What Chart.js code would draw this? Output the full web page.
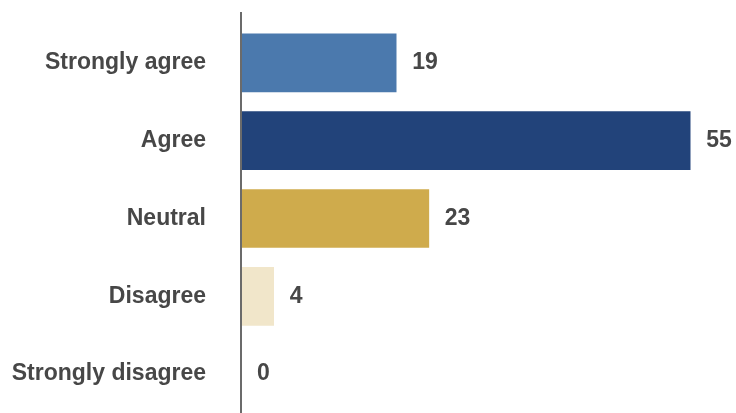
<!DOCTYPE html>
<html>
<head>
<meta charset="utf-8">
<script src="https://cdn.jsdelivr.net/npm/chart.js@4"></script>
<style>
  html, body { margin: 0; padding: 0; background: #ffffff; }
  #wrap { width: 736px; height: 413px; }
</style>
</head>
<body>
<div id="wrap"><canvas id="chart" width="736" height="413"></canvas></div>
<script>
// Survey responses
const categories = ['Strongly agree', 'Agree', 'Neutral', 'Disagree', 'Strongly disagree'];
const responses = [19, 55, 23, 4, 0];
const barColors = ['#4b79ad', '#22437a', '#cfab4c', '#f1e6ca', '#d9d9d9'];

const TEXT_COLOR = '#474747';
const FONT_FAMILY = '"Liberation Sans", Arial, sans-serif';
const FONT_SIZE = 23;

// Value labels to the right of each bar
const valueLabels = {
  id: 'valueLabels',
  afterDatasetsDraw(chart) {
    const ctx = chart.ctx;
    const meta = chart.getDatasetMeta(0);
    ctx.save();
    ctx.fillStyle = TEXT_COLOR;
    ctx.font = 'bold ' + FONT_SIZE + 'px ' + FONT_FAMILY;
    ctx.textAlign = 'left';
    ctx.textBaseline = 'middle';
    meta.data.forEach((bar, i) => {
      ctx.fillText(String(chart.data.datasets[0].data[i]), bar.x + 16, bar.y);
    });
    ctx.restore();
  }
};

// Vertical baseline at zero, extending a little above the plot
const baseline = {
  id: 'baseline',
  afterDatasetsDraw(chart) {
    const ctx = chart.ctx;
    const x = Math.round(chart.scales.x.getPixelForValue(0));
    ctx.save();
    ctx.strokeStyle = '#6b6b6b';
    ctx.lineWidth = 2;
    ctx.beginPath();
    ctx.moveTo(x, 12);
    ctx.lineTo(x, chart.chartArea.bottom);
    ctx.stroke();
    ctx.restore();
  }
};

new Chart(document.getElementById('chart'), {
  type: 'bar',
  data: {
    labels: categories,
    datasets: [{
      data: responses,
      backgroundColor: barColors,
      borderWidth: 0,
      barThickness: 58
    }]
  },
  plugins: [valueLabels, baseline],
  options: {
    indexAxis: 'y',
    responsive: false,
    animation: false,
    layout: { padding: { top: 24, right: 5, bottom: 0, left: 0 } },
    plugins: {
      legend: { display: false },
      tooltip: { enabled: false }
    },
    scales: {
      x: {
        display: false,
        min: 0,
        max: 60
      },
      y: {
        afterFit(scale) {
          scale.width = 241;
          scale.paddingTop = 0;
          scale.paddingBottom = 0;
        },
        grid: { display: false, drawTicks: false },
        border: { display: false },
        ticks: {
          padding: 35,
          color: TEXT_COLOR,
          font: { family: FONT_FAMILY, size: FONT_SIZE, weight: 'bold' }
        }
      }
    }
  }
});
</script>
</body>
</html>
